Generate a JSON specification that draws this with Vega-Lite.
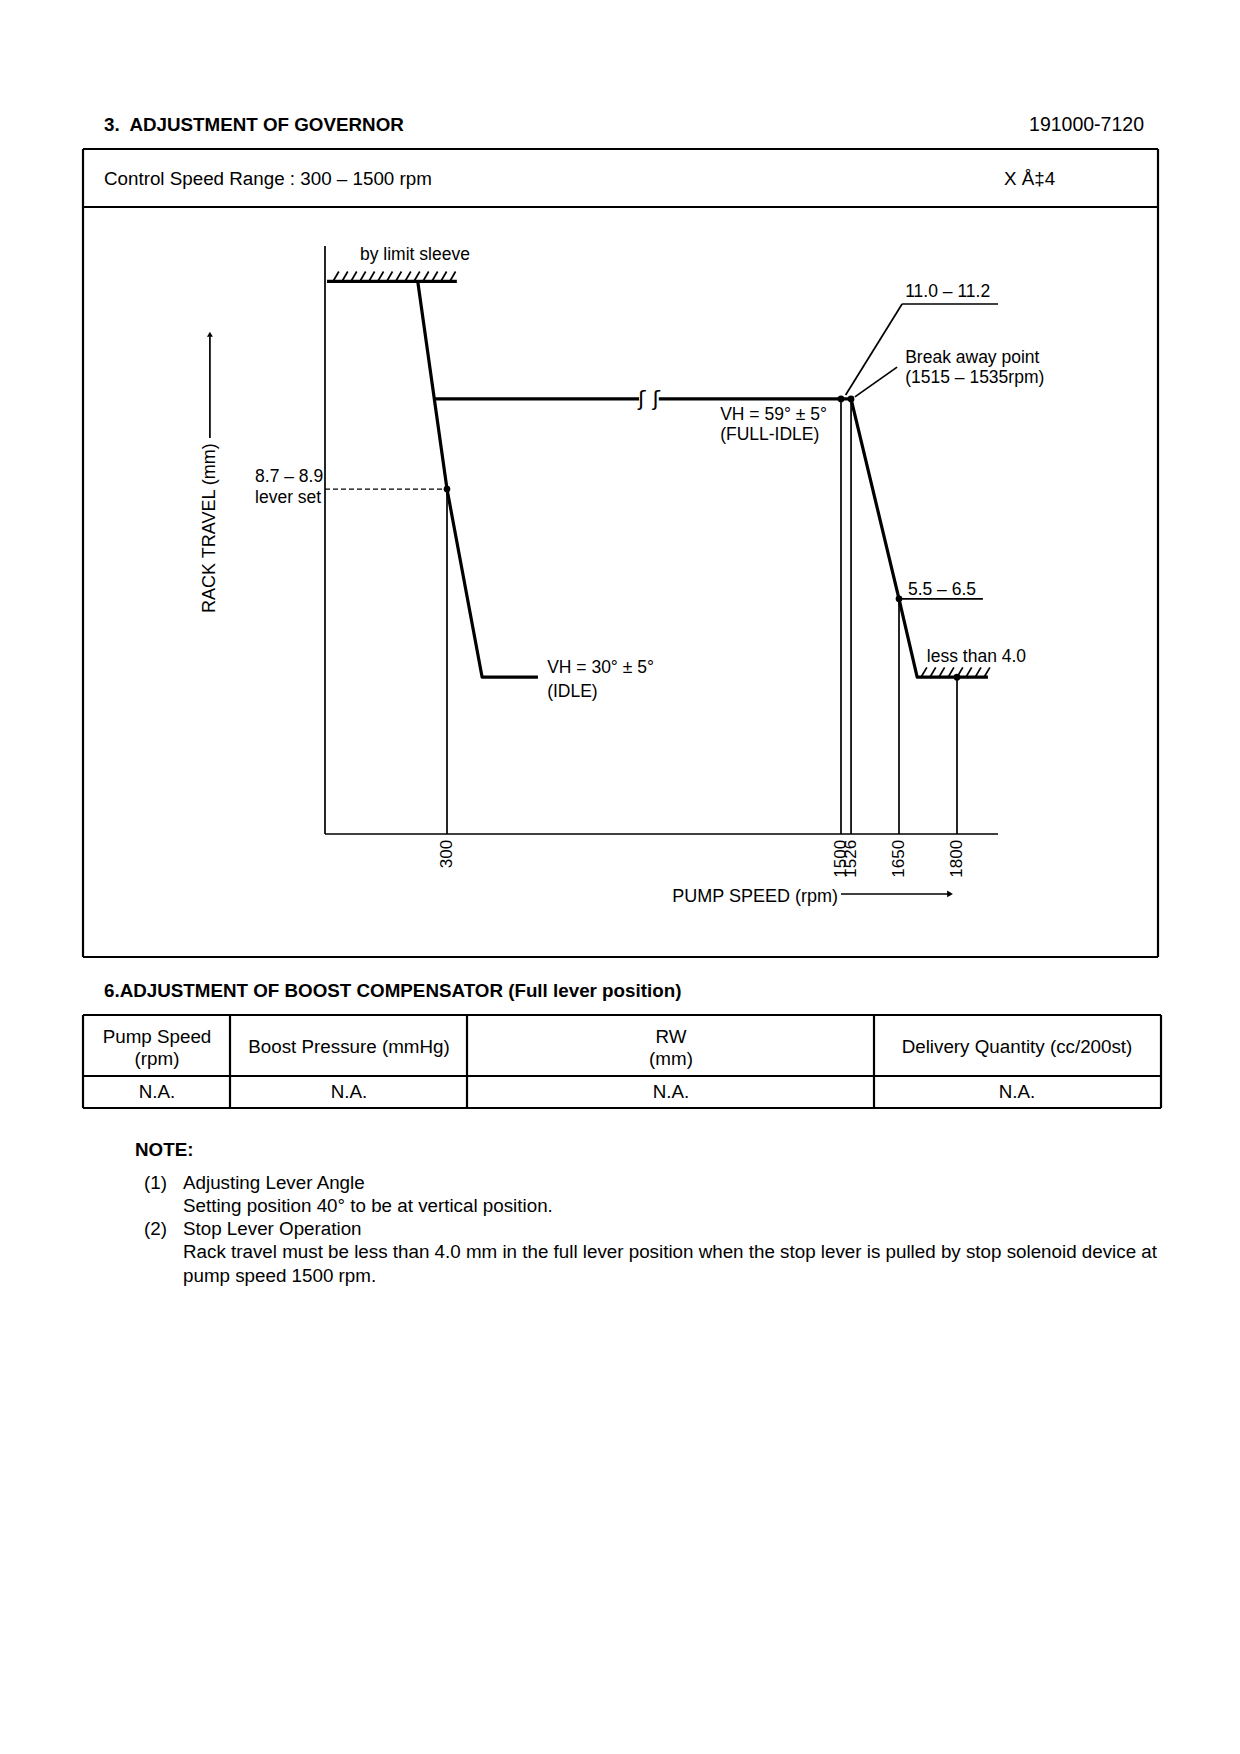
{
"$schema":"https://vega.github.io/schema/vega-lite/v6.json",
"width":1240,"height":1754,
"autosize":{"type":"fit","contains":"padding"},
"padding":0,
"background":"#ffffff",
"config":{"view":{"stroke":null}},
"datasets":{
"pageLines":[
{"x":83,"y":149,"x2":1158,"y2":149},
{"x":83,"y":207,"x2":1158,"y2":207},
{"x":83,"y":957,"x2":1158,"y2":957},
{"x":83,"y":149,"x2":83,"y2":957},
{"x":1158,"y":149,"x2":1158,"y2":957},
{"x":83,"y":1015,"x2":1161,"y2":1015},
{"x":83,"y":1076,"x2":1161,"y2":1076},
{"x":83,"y":1108,"x2":1161,"y2":1108},
{"x":83,"y":1015,"x2":83,"y2":1108},
{"x":230,"y":1015,"x2":230,"y2":1108},
{"x":467,"y":1015,"x2":467,"y2":1108},
{"x":874,"y":1015,"x2":874,"y2":1108},
{"x":1161,"y":1015,"x2":1161,"y2":1108}
],
"pageBold":[
{"x":104,"y":125,"text":"3.\u00a0 ADJUSTMENT OF GOVERNOR"},
{"x":104,"y":991,"text":"6.ADJUSTMENT OF BOOST COMPENSATOR (Full lever position)"},
{"x":135,"y":1150,"text":"NOTE:"}
],
"pageLeft":[
{"x":104,"y":179,"text":"Control Speed Range : 300 – 1500 rpm"},
{"x":1004,"y":179,"text":"X Å‡4"},
{"x":144,"y":1183,"text":"(1)"},
{"x":183,"y":1183,"text":"Adjusting Lever Angle"},
{"x":183,"y":1206,"text":"Setting position 40° to be at vertical position."},
{"x":144,"y":1229,"text":"(2)"},
{"x":183,"y":1229,"text":"Stop Lever Operation"},
{"x":183,"y":1252,"text":"Rack travel must be less than 4.0 mm in the full lever position when the stop lever is pulled by stop solenoid device at"},
{"x":183,"y":1276,"text":"pump speed 1500 rpm."}
],
"pageRight":[
{"x":1144,"y":125,"text":"191000-7120"}
],
"tableCells":[
{"x":157,"y":1037,"text":"Pump Speed"},
{"x":157,"y":1059,"text":"(rpm)"},
{"x":349,"y":1047,"text":"Boost Pressure (mmHg)"},
{"x":671,"y":1037,"text":"RW"},
{"x":671,"y":1059,"text":"(mm)"},
{"x":1017,"y":1047,"text":"Delivery Quantity (cc/200st)"},
{"x":157,"y":1092,"text":"N.A."},
{"x":349,"y":1092,"text":"N.A."},
{"x":671,"y":1092,"text":"N.A."},
{"x":1017,"y":1092,"text":"N.A."}
],
"curves":[
{"series":"governor","order":1,"rpm":228,"mm":14.1},
{"series":"governor","order":2,"rpm":300,"mm":8.8},
{"series":"governor","order":3,"rpm":407,"mm":4.0},
{"series":"governor","order":4,"rpm":577,"mm":4.0},
{"series":"fullIdleA","order":1,"rpm":270,"mm":11.1},
{"series":"fullIdleA","order":2,"rpm":885,"mm":11.1},
{"series":"fullIdleB","order":1,"rpm":945,"mm":11.1},
{"series":"fullIdleB","order":2,"rpm":1526,"mm":11.1},
{"series":"breakaway","order":1,"rpm":1526,"mm":11.1},
{"series":"breakaway","order":2,"rpm":1650,"mm":6.0},
{"series":"breakaway","order":3,"rpm":1697,"mm":4.0},
{"series":"breakaway","order":4,"rpm":1880,"mm":4.0},
{"series":"limitSleeve","order":1,"rpm":5,"mm":14.1},
{"series":"limitSleeve","order":2,"rpm":330,"mm":14.1}
],
"thinLines":[
{"rpm":0,"mm":0,"rpm2":0,"mm2":15},
{"rpm":0,"mm":0,"rpm2":1906,"mm2":0},
{"rpm":300,"mm":0,"rpm2":300,"mm2":8.8},
{"rpm":1500,"mm":0,"rpm2":1500,"mm2":11.1},
{"rpm":1526,"mm":0,"rpm2":1526,"mm2":11.1},
{"rpm":1650,"mm":0,"rpm2":1650,"mm2":6.0},
{"rpm":1800,"mm":0,"rpm2":1800,"mm2":4.0},
{"rpm":1658,"mm":13.52,"rpm2":1906,"mm2":13.52},
{"rpm":1658,"mm":13.52,"rpm2":1512,"mm2":11.2},
{"rpm":1645,"mm":11.91,"rpm2":1536,"mm2":11.15},
{"rpm":1650,"mm":6.0,"rpm2":1867,"mm2":6.0},
{"rpm":1500,"mm":-1.53,"rpm2":1780,"mm2":-1.53},
{"rpm":-283,"mm":10.1,"rpm2":-283,"mm2":12.7}
],
"dashed":[
{"rpm":0,"mm":8.8,"rpm2":300,"mm2":8.8}
],
"hatches":[
{"rpm":20,"mm":14.1,"rpm2":34,"mm2":14.35},
{"rpm":42,"mm":14.1,"rpm2":56,"mm2":14.35},
{"rpm":64,"mm":14.1,"rpm2":78,"mm2":14.35},
{"rpm":86,"mm":14.1,"rpm2":100,"mm2":14.35},
{"rpm":108,"mm":14.1,"rpm2":122,"mm2":14.35},
{"rpm":130,"mm":14.1,"rpm2":144,"mm2":14.35},
{"rpm":152,"mm":14.1,"rpm2":166,"mm2":14.35},
{"rpm":174,"mm":14.1,"rpm2":188,"mm2":14.35},
{"rpm":197,"mm":14.1,"rpm2":211,"mm2":14.35},
{"rpm":219,"mm":14.1,"rpm2":233,"mm2":14.35},
{"rpm":241,"mm":14.1,"rpm2":255,"mm2":14.35},
{"rpm":263,"mm":14.1,"rpm2":277,"mm2":14.35},
{"rpm":285,"mm":14.1,"rpm2":299,"mm2":14.35},
{"rpm":309,"mm":14.1,"rpm2":326,"mm2":14.35},
{"rpm":1707,"mm":4.0,"rpm2":1722,"mm2":4.25},
{"rpm":1730,"mm":4.0,"rpm2":1745,"mm2":4.25},
{"rpm":1753,"mm":4.0,"rpm2":1768,"mm2":4.25},
{"rpm":1777,"mm":4.0,"rpm2":1792,"mm2":4.25},
{"rpm":1800,"mm":4.0,"rpm2":1815,"mm2":4.25},
{"rpm":1823,"mm":4.0,"rpm2":1838,"mm2":4.25},
{"rpm":1847,"mm":4.0,"rpm2":1862,"mm2":4.25},
{"rpm":1870,"mm":4.0,"rpm2":1885,"mm2":4.25}
],
"points":[
{"rpm":300,"mm":8.8},
{"rpm":1500,"mm":11.1},
{"rpm":1526,"mm":11.1},
{"rpm":1650,"mm":6.0},
{"rpm":1800,"mm":4.0}
],
"arrowRight":[{"rpm":1782,"mm":-1.53}],
"arrowUp":[{"rpm":-283,"mm":12.75}],
"tickLabels":[
{"rpm":300,"mm":-0.15,"text":"300"},
{"rpm":1500,"mm":-0.15,"text":"1500"},
{"rpm":1526,"mm":-0.15,"text":"1526"},
{"rpm":1650,"mm":-0.15,"text":"1650"},
{"rpm":1800,"mm":-0.15,"text":"1800"}
],
"yTitle":[{"rpm":-283,"mm":5.64,"text":"RACK TRAVEL (mm)"}],
"xTitle":[{"rpm":1491,"mm":-1.6,"text":"PUMP SPEED (rpm)"}],
"labels":[
{"rpm":86,"mm":14.77,"text":"by limit sleeve"},
{"rpm":-172,"mm":9.11,"text":"8.7 – 8.9"},
{"rpm":-172,"mm":8.57,"text":"lever set"},
{"rpm":605,"mm":4.23,"text":"VH = 30° ± 5°"},
{"rpm":605,"mm":3.62,"text":"(IDLE)"},
{"rpm":1132,"mm":10.69,"text":"VH = 59° ± 5°"},
{"rpm":1132,"mm":10.18,"text":"(FULL-IDLE)"},
{"rpm":1666,"mm":13.83,"text":"11.0 – 11.2"},
{"rpm":1666,"mm":12.14,"text":"Break away point"},
{"rpm":1666,"mm":11.63,"text":"(1515 – 1535rpm)"},
{"rpm":1673,"mm":6.22,"text":"5.5 – 6.5"},
{"rpm":1722,"mm":4.52,"text":"less than 4.0"}
],
"breakMark":[{"rpm":915,"mm":11.1,"text":"ʃ ʃ"}]
},
"layer":[
{"layer":[
{"data":{"name":"pageLines"},"mark":{"type":"rule","color":"#000","strokeWidth":2.2},
 "encoding":{"x":{"field":"x","type":"quantitative","scale":{"domain":[0,1240],"nice":false,"zero":false},"axis":null},
 "y":{"field":"y","type":"quantitative","scale":{"domain":[0,1754],"nice":false,"zero":false,"reverse":true},"axis":null},
 "x2":{"field":"x2"},"y2":{"field":"y2"}}},
{"data":{"name":"pageBold"},"mark":{"type":"text","font":"Liberation Sans","fontSize":18.8,"fontWeight":"bold","align":"left","baseline":"middle","color":"#000"},
 "encoding":{"x":{"field":"x","type":"quantitative","axis":null},"y":{"field":"y","type":"quantitative","axis":null},"text":{"field":"text"}}},
{"data":{"name":"pageLeft"},"mark":{"type":"text","font":"Liberation Sans","fontSize":18.8,"align":"left","baseline":"middle","color":"#000"},
 "encoding":{"x":{"field":"x","type":"quantitative","axis":null},"y":{"field":"y","type":"quantitative","axis":null},"text":{"field":"text"}}},
{"data":{"name":"pageRight"},"mark":{"type":"text","font":"Liberation Sans","fontSize":19.5,"align":"right","baseline":"middle","color":"#000"},
 "encoding":{"x":{"field":"x","type":"quantitative","axis":null},"y":{"field":"y","type":"quantitative","axis":null},"text":{"field":"text"}}},
{"data":{"name":"tableCells"},"mark":{"type":"text","font":"Liberation Sans","fontSize":18.8,"align":"center","baseline":"middle","color":"#000"},
 "encoding":{"x":{"field":"x","type":"quantitative","axis":null},"y":{"field":"y","type":"quantitative","axis":null},"text":{"field":"text"}}}
]},
{"layer":[
{"data":{"name":"thinLines"},"mark":{"type":"rule","color":"#000","strokeWidth":1.7},
 "encoding":{"x":{"field":"rpm","type":"quantitative","scale":{"domain":[0,300,1500,1800],"range":[325,447,841,957],"nice":false,"zero":false},"axis":null},
 "y":{"field":"mm","type":"quantitative","scale":{"domain":[0,15],"range":[834,246],"nice":false,"zero":false},"axis":null},
 "x2":{"field":"rpm2"},"y2":{"field":"mm2"}}},
{"data":{"name":"dashed"},"mark":{"type":"rule","color":"#000","strokeWidth":1.2,"strokeDash":[5,3]},
 "encoding":{"x":{"field":"rpm","type":"quantitative","axis":null},"y":{"field":"mm","type":"quantitative","axis":null},"x2":{"field":"rpm2"},"y2":{"field":"mm2"}}},
{"data":{"name":"hatches"},"mark":{"type":"rule","color":"#000","strokeWidth":1.7},
 "encoding":{"x":{"field":"rpm","type":"quantitative","axis":null},"y":{"field":"mm","type":"quantitative","axis":null},"x2":{"field":"rpm2"},"y2":{"field":"mm2"}}},
{"data":{"name":"curves"},"mark":{"type":"line","color":"#000","strokeWidth":3.2,"strokeJoin":"round"},
 "encoding":{"x":{"field":"rpm","type":"quantitative","axis":null},"y":{"field":"mm","type":"quantitative","axis":null},"detail":{"field":"series"},"order":{"field":"order","type":"quantitative"}}},
{"data":{"name":"points"},"mark":{"type":"point","filled":true,"color":"#000","size":45,"opacity":1},
 "encoding":{"x":{"field":"rpm","type":"quantitative","axis":null},"y":{"field":"mm","type":"quantitative","axis":null}}},
{"data":{"name":"arrowRight"},"mark":{"type":"point","shape":"triangle-right","filled":true,"color":"#000","size":45,"opacity":1},
 "encoding":{"x":{"field":"rpm","type":"quantitative","axis":null},"y":{"field":"mm","type":"quantitative","axis":null}}},
{"data":{"name":"arrowUp"},"mark":{"type":"point","shape":"triangle-up","filled":true,"color":"#000","size":35,"opacity":1},
 "encoding":{"x":{"field":"rpm","type":"quantitative","axis":null},"y":{"field":"mm","type":"quantitative","axis":null}}},
{"data":{"name":"tickLabels"},"mark":{"type":"text","font":"Liberation Sans","fontSize":17,"angle":270,"align":"right","baseline":"middle","color":"#000"},
 "encoding":{"x":{"field":"rpm","type":"quantitative","axis":null},"y":{"field":"mm","type":"quantitative","axis":null},"text":{"field":"text"}}},
{"data":{"name":"yTitle"},"mark":{"type":"text","font":"Liberation Sans","fontSize":18,"angle":270,"align":"left","baseline":"middle","color":"#000"},
 "encoding":{"x":{"field":"rpm","type":"quantitative","axis":null},"y":{"field":"mm","type":"quantitative","axis":null},"text":{"field":"text"}}},
{"data":{"name":"xTitle"},"mark":{"type":"text","font":"Liberation Sans","fontSize":18,"align":"right","baseline":"middle","color":"#000"},
 "encoding":{"x":{"field":"rpm","type":"quantitative","axis":null},"y":{"field":"mm","type":"quantitative","axis":null},"text":{"field":"text"}}},
{"data":{"name":"labels"},"mark":{"type":"text","font":"Liberation Sans","fontSize":17.5,"align":"left","baseline":"middle","color":"#000"},
 "encoding":{"x":{"field":"rpm","type":"quantitative","axis":null},"y":{"field":"mm","type":"quantitative","axis":null},"text":{"field":"text"}}},
{"data":{"name":"breakMark"},"mark":{"type":"text","font":"DejaVu Sans","fontSize":22,"align":"center","baseline":"middle","color":"#000"},
 "encoding":{"x":{"field":"rpm","type":"quantitative","axis":null},"y":{"field":"mm","type":"quantitative","axis":null},"text":{"field":"text"}}}
]}
],
"resolve":{"scale":{"x":"independent","y":"independent"}}
}
